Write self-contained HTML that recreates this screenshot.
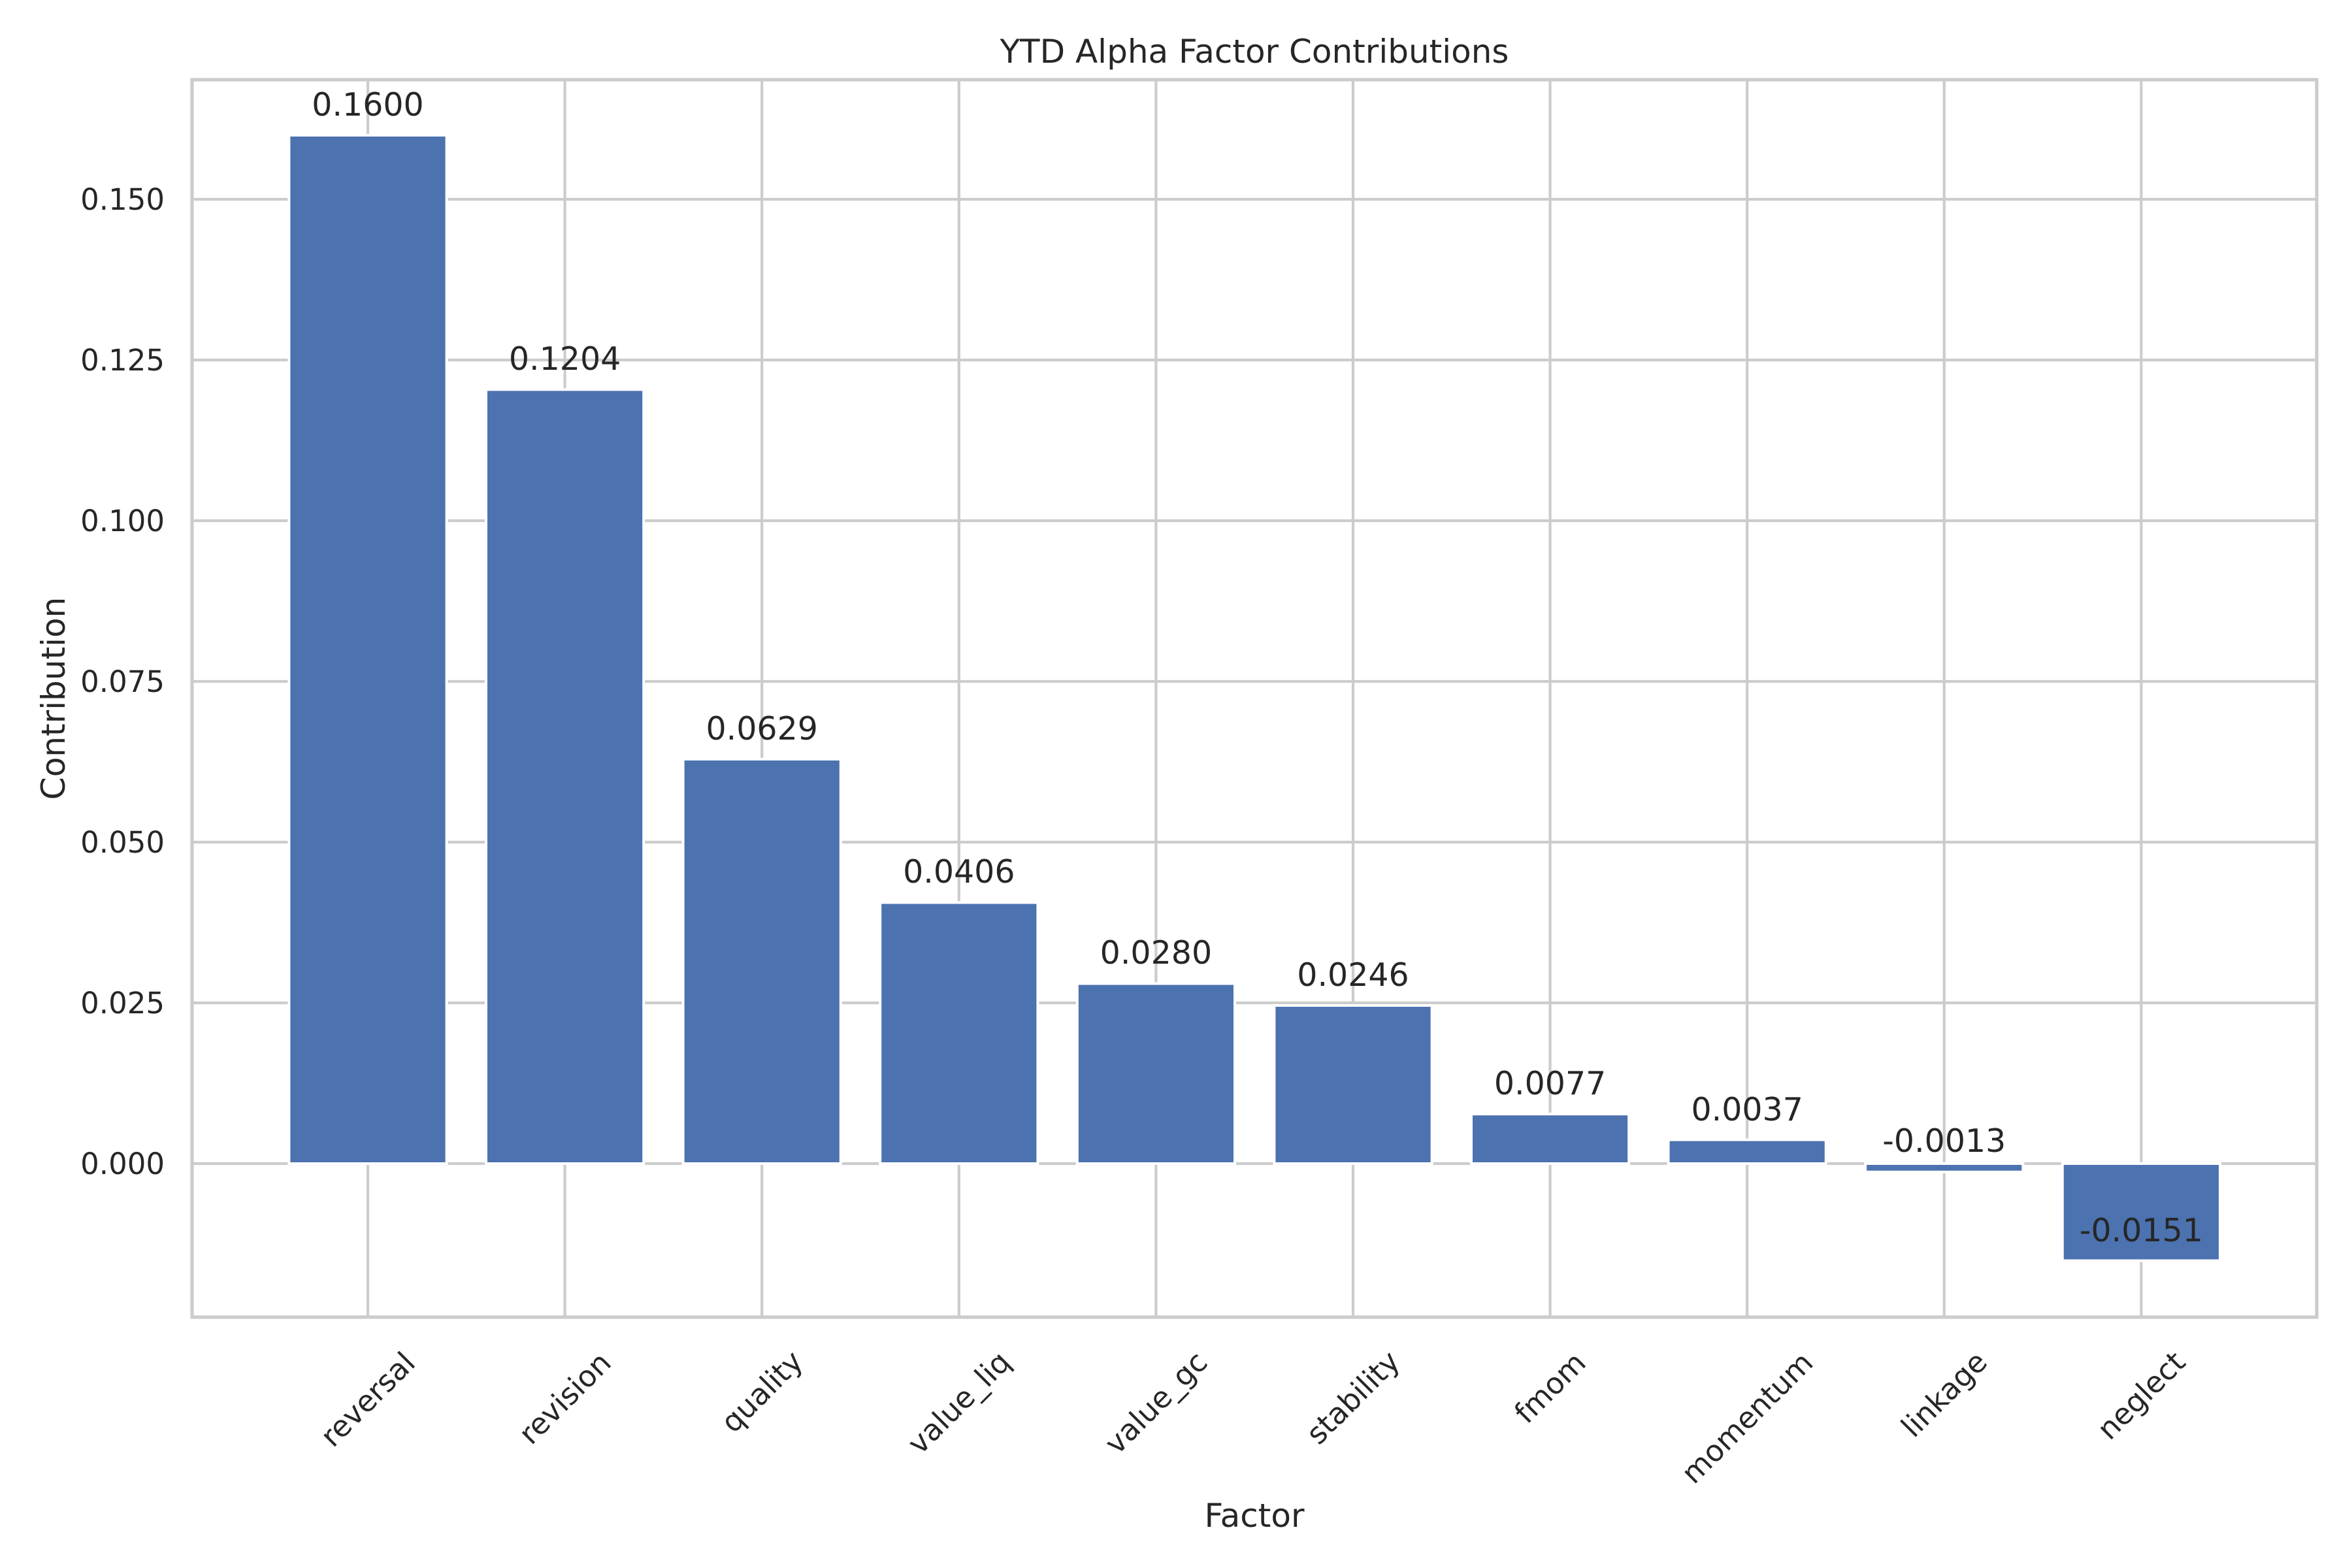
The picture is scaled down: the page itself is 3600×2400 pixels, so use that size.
<!DOCTYPE html>
<html><head><meta charset="utf-8"><style>html,body{margin:0;padding:0;background:#fff}svg{display:block}</style></head>
<body>
<svg xmlns="http://www.w3.org/2000/svg" width="3600" height="2400" viewBox="0 0 3600 2400" font-family="'DejaVu Sans','Liberation Sans',sans-serif" fill="#262626">
<rect width="3600" height="2400" fill="#fff"/>
<g stroke="#cccccc" stroke-width="4.2">
<line x1="294" x2="3546" y1="305" y2="305"/>
<line x1="294" x2="3546" y1="551" y2="551"/>
<line x1="294" x2="3546" y1="797" y2="797"/>
<line x1="294" x2="3546" y1="1043" y2="1043"/>
<line x1="294" x2="3546" y1="1289" y2="1289"/>
<line x1="294" x2="3546" y1="1535" y2="1535"/>
<line x1="294" x2="3546" y1="1781" y2="1781"/>
<line x1="563" x2="563" y1="122" y2="2016"/>
<line x1="864.6" x2="864.6" y1="122" y2="2016"/>
<line x1="1166.2" x2="1166.2" y1="122" y2="2016"/>
<line x1="1467.8" x2="1467.8" y1="122" y2="2016"/>
<line x1="1769.4" x2="1769.4" y1="122" y2="2016"/>
<line x1="2071" x2="2071" y1="122" y2="2016"/>
<line x1="2372.6" x2="2372.6" y1="122" y2="2016"/>
<line x1="2674.2" x2="2674.2" y1="122" y2="2016"/>
<line x1="2975.8" x2="2975.8" y1="122" y2="2016"/>
<line x1="3277.4" x2="3277.4" y1="122" y2="2016"/>
</g>
<g fill="#4c72b0" stroke="#fff" stroke-width="4">
<rect x="442.4" y="207" width="241.2" height="1574"/>
<rect x="744" y="596.3" width="241.2" height="1184.7"/>
<rect x="1045.6" y="1162" width="241.2" height="619"/>
<rect x="1347.2" y="1381.5" width="241.2" height="399.5"/>
<rect x="1648.8" y="1505.5" width="241.2" height="275.5"/>
<rect x="1950.4" y="1539" width="241.2" height="242"/>
<rect x="2252" y="1705.2" width="241.2" height="75.8"/>
<rect x="2553.6" y="1744.6" width="241.2" height="36.4"/>
<rect x="2855.2" y="1781" width="241.2" height="12.8"/>
<rect x="3156.8" y="1781" width="241.2" height="148.6"/>
</g>
<rect x="294" y="122" width="3252" height="1894" fill="none" stroke="#cccccc" stroke-width="5.2"/>
<g font-size="49" text-anchor="middle">
<text x="563" y="177">0.1600</text>
<text x="864.6" y="566">0.1204</text>
<text x="1166.2" y="1132">0.0629</text>
<text x="1467.8" y="1351">0.0406</text>
<text x="1769.4" y="1475">0.0280</text>
<text x="2071" y="1509">0.0246</text>
<text x="2372.6" y="1675">0.0077</text>
<text x="2674.2" y="1715">0.0037</text>
<text x="2975.8" y="1763">-0.0013</text>
<text x="3277.4" y="1900">-0.0151</text>
</g>
<g font-size="45" text-anchor="end">
<text x="252" y="321">0.150</text>
<text x="252" y="567">0.125</text>
<text x="252" y="813">0.100</text>
<text x="252" y="1059">0.075</text>
<text x="252" y="1305">0.050</text>
<text x="252" y="1551">0.025</text>
<text x="252" y="1797">0.000</text>
</g>
<g font-size="45" text-anchor="middle" dominant-baseline="central">
<text transform="translate(563,2142) rotate(-45)">reversal</text>
<text transform="translate(864.6,2140) rotate(-45)">revision</text>
<text transform="translate(1166.2,2130) rotate(-45)">quality</text>
<text transform="translate(1467.8,2147) rotate(-45)">value_liq</text>
<text transform="translate(1769.4,2147) rotate(-45)">value_gc</text>
<text transform="translate(2071,2139) rotate(-45)">stability</text>
<text transform="translate(2372.6,2124) rotate(-45)">fmom</text>
<text transform="translate(2674.2,2170) rotate(-45)">momentum</text>
<text transform="translate(2975.8,2134) rotate(-45)">linkage</text>
<text transform="translate(3277.4,2136) rotate(-45)">neglect</text>
</g>
<text x="1920" y="2337" font-size="50" text-anchor="middle">Factor</text>
<text transform="translate(99,1069) rotate(-90)" font-size="50" text-anchor="middle">Contribution</text>
<text x="1920" y="96" font-size="50" text-anchor="middle">YTD Alpha Factor Contributions</text>
</svg>
</body></html>
